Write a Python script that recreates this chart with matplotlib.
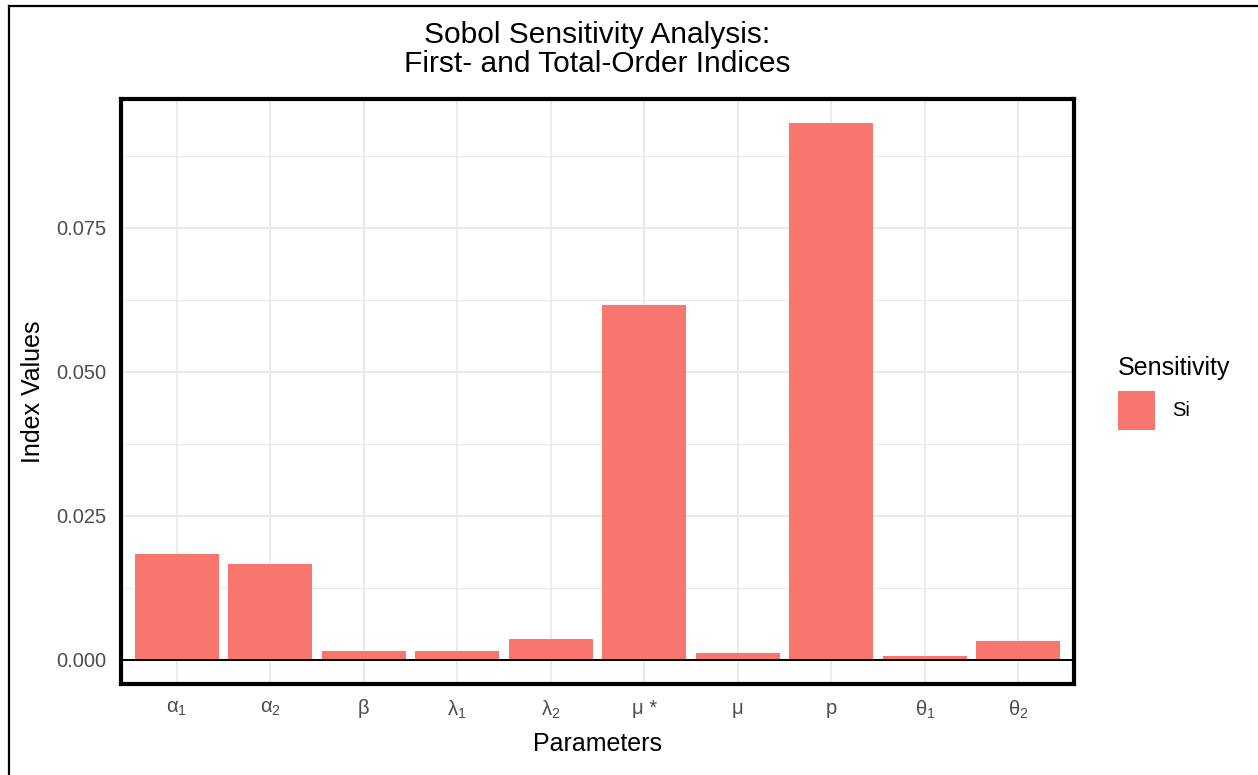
import matplotlib.pyplot as plt
import numpy as np
from matplotlib.lines import Line2D
from matplotlib.ticker import MultipleLocator

plt.rcParams['font.family'] = ['Liberation Sans', 'DejaVu Sans']
plt.rcParams['mathtext.fontset'] = 'custom'
plt.rcParams['mathtext.rm'] = 'Liberation Sans'
plt.rcParams['mathtext.it'] = 'Liberation Sans'

# first-order Sobol indices per parameter
params = [r'$\mathregular{\alpha_1}$', r'$\mathregular{\alpha_2}$', 'β',
          r'$\mathregular{\lambda_1}$', r'$\mathregular{\lambda_2}$', 'μ *', 'μ', 'p',
          r'$\mathregular{\theta_1}$', r'$\mathregular{\theta_2}$']
si = [0.0184, 0.0166, 0.0016, 0.0016, 0.0036, 0.0617, 0.0012, 0.0932, 0.0006, 0.0033]
yticks = [0.0, 0.025, 0.05, 0.075]

bar_color = '#F8766D'
grey = '#4D4D4D'

fig = plt.figure(figsize=(12.58, 7.75), dpi=100)
ax = fig.add_axes([0.0958, 0.1168, 0.7583, 0.7561])

x = np.arange(len(params))
ax.bar(x, si, width=0.9, color=bar_color, label='Si', zorder=2)
ax.axhline(0, color='black', lw=1.4, zorder=3)

top = max(si)
ax.set_ylim(-0.046 * top, 1.046 * top)
ax.set_xlim(-0.6, len(params) - 0.4)

ax.set_xticks(x)
ax.set_xticklabels(params)
ax.set_yticks(yticks)
ax.set_yticklabels(['%.3f' % v for v in yticks])
ax.yaxis.set_minor_locator(MultipleLocator(0.0125))
ax.tick_params(axis='both', which='both', length=0, labelsize=14.5, labelcolor=grey)
ax.tick_params(axis='x', pad=10.5)
ax.tick_params(axis='y', pad=10)

ax.grid(which='major', color='#EBEBEB', lw=1.5, zorder=0)
ax.grid(which='minor', axis='y', color='#EBEBEB', lw=0.8, zorder=0)
ax.set_axisbelow(True)

for s in ax.spines.values():
    s.set_linewidth(3)
    s.set_color('black')

ax.set_xlabel('Parameters', fontsize=18, labelpad=8)
ax.set_ylabel('Index Values', fontsize=18, labelpad=8)
ax.set_title('Sobol Sensitivity Analysis:\nFirst- and Total-Order Indices',
             fontsize=21.5, linespacing=1.05, pad=19)

leg = ax.legend(title='Sensitivity', loc='upper left', bbox_to_anchor=(0.8887, 0.540),
                bbox_transform=fig.transFigure, frameon=False, fontsize=14.5,
                title_fontsize=18, handlelength=1.84, handleheight=2.6,
                handletextpad=0.85, borderaxespad=0, borderpad=0)
leg._legend_box.align = 'left'

# outer frame around the plot (only left and top edges fall inside the image)
fig.add_artist(Line2D([9 / 1258, 9 / 1258], [0, 1 - 6 / 775], color='black', lw=1.6,
                      transform=fig.transFigure))
fig.add_artist(Line2D([9 / 1258, 1], [1 - 6 / 775, 1 - 6 / 775], color='black', lw=1.6,
                      transform=fig.transFigure))

fig.savefig('out.png', dpi=100)
